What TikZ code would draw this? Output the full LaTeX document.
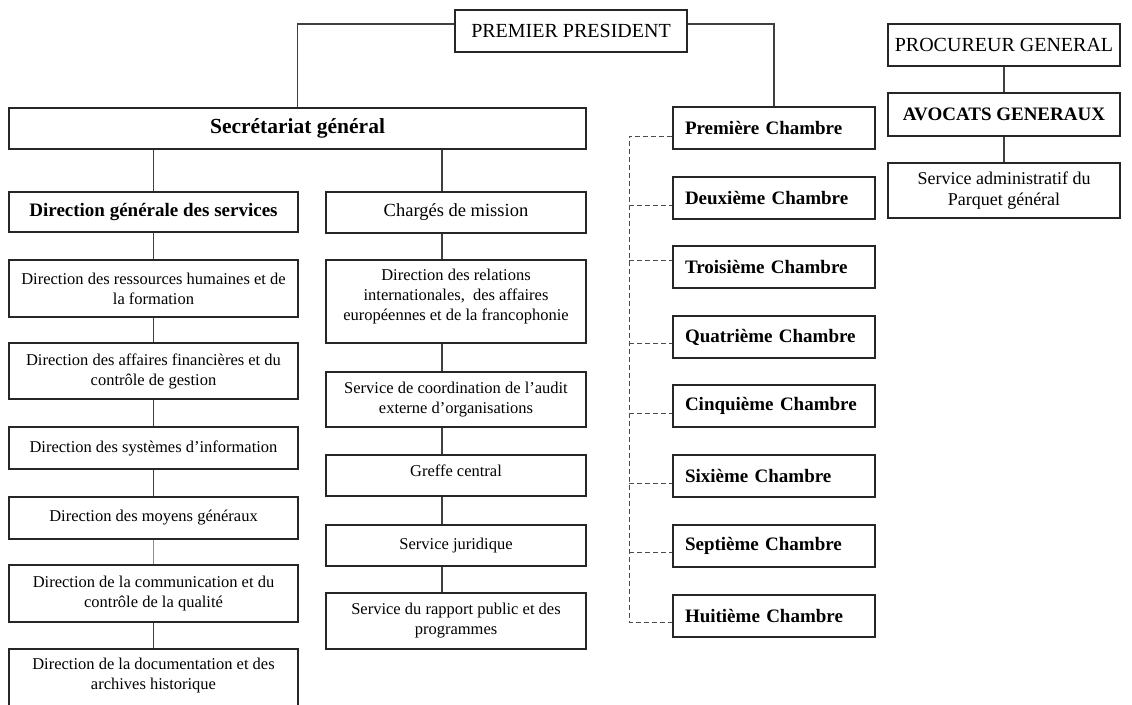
\documentclass[tikz,border=0pt]{standalone}
\usepackage{fontspec}
\setmainfont{Liberation Serif}
\begin{document}
\begin{tikzpicture}[x=1pt,y=-1pt,
  box/.style={draw=black!85, line width=1.1pt, inner sep=0pt, align=center, fill=white},
  reg/.style={font=\fontsize{16.5}{20}\selectfont},
  regbig/.style={font=\fontsize{18.5}{21}\selectfont},
  caps/.style={font=\fontsize{20}{24}\selectfont},
  bld/.style={font=\fontsize{19}{22}\bfseries\selectfont},
  chambre/.style={box, bld, minimum width=202pt, minimum height=42pt,
                  text width=178pt, align=left},
  inner text/.style={reg, align=center, inner sep=0pt},
  link/.style={draw=black!75, line width=1.1pt},
  thinlink/.style={draw=black!45, line width=0.8pt},
  dashlink/.style={draw=black!70, line width=1pt, dash pattern=on 5pt off 3pt}]

\useasboundingbox (0,0) rectangle (1132,704);
\clip (0,0) rectangle (1132,704);

% top of the hierarchy
\node[box, caps, minimum width=232pt, minimum height=42pt] (pp) at (571,31) {PREMIER PRESIDENT};
\node[box, font=\fontsize{21.5}{24}\bfseries\selectfont, minimum width=577pt, minimum height=41pt] (sg) at (297.5,128.5) {Secrétariat général};

% left column: Direction générale des services
\node[box, bld, minimum width=289pt, minimum height=40pt] (dgs) at (153.5,212) {Direction générale des services};
\node[box, reg, minimum width=289pt, minimum height=57pt] (drh) at (153.5,288.5) {Direction des ressources humaines et de\\la formation};
\node[box, reg, minimum width=289pt, minimum height=56pt] (daf) at (153.5,371) {Direction des affaires financières et du\\contrôle de gestion};
\node[box, reg, minimum width=289pt, minimum height=42pt] (dsi) at (153.5,448) {Direction des systèmes d’information};
\node[box, reg, minimum width=289pt, minimum height=42pt] (dmg) at (153.5,518) {Direction des moyens généraux};
\node[box, reg, minimum width=289pt, minimum height=57pt] (dccq) at (153.5,593.5) {Direction de la communication et du\\contrôle de la qualité};
\node[box, minimum width=289pt, minimum height=62pt] (ddah) at (153.5,680) {};
\node[inner text] (ddahtext) at (153.5,675.5) {Direction de la documentation et des\\archives historique};

% middle column: Chargés de mission
\coordinate (colB) at (442,0);
\node[box, regbig, minimum width=260pt, minimum height=41pt] (cm) at (456,212.5) {Chargés de mission};
\node[box, minimum width=260pt, minimum height=83pt] (dri) at (456,301.5) {};
\node[inner text] (dritext) at (456,297) {Direction des relations\\internationales,\ \ des affaires\\européennes et de la francophonie};
\node[box, reg, minimum width=260pt, minimum height=55pt] (sca) at (456,399.5) {Service de coordination de l’audit\\externe d’organisations};
\node[box, minimum width=260pt, minimum height=41pt] (gc) at (456,475.5) {};
\node[inner text] (gctext) at (456,471) {Greffe central};
\node[box, reg, minimum width=260pt, minimum height=41pt] (sj) at (456,545.5) {Service juridique};
\node[box, reg, minimum width=260pt, minimum height=56pt] (srp) at (456,621) {Service du rapport public et des\\programmes};

% chambers
\node[chambre] (c1) at (774,128) {Première Chambre};
\node[chambre] (c2) at (774,198) {Deuxième Chambre};
\node[chambre] (c3) at (774,267) {Troisième Chambre};
\node[chambre] (c4) at (774,337) {Quatrième Chambre};
\node[chambre] (c5) at (774,406) {Cinquième Chambre};
\node[chambre] (c6) at (774,476) {Sixième Chambre};
\node[chambre] (c7) at (774,546) {Septième Chambre};
\node[chambre] (c8) at (774,616) {Huitième Chambre};

% parquet général
\node[box, caps, minimum width=232pt, minimum height=42pt] (pg) at (1004,45) {PROCUREUR GENERAL};
\node[box, bld, minimum width=232pt, minimum height=43pt] (ag) at (1004,114.5) {AVOCATS GENERAUX};
\node[box, font=\fontsize{18}{21}\selectfont, minimum width=232pt, minimum height=55pt] (sap) at (1004,190.5) {Service administratif du\\Parquet général};

% solid connectors
\draw[link] ([yshift=7pt]pp.west) -| (sg.north);
\draw[link] ([yshift=7pt]pp.east) -| (c1.north);
\draw[link] (sg.south -| dgs.north) -- (dgs.north);
\draw[link] (sg.south -| colB) -- (cm.north -| colB);

\draw[link] (dgs.south) -- (drh.north);
\draw[link] (drh.south) -- (daf.north);
\draw[link] (daf.south) -- (dsi.north);
\draw[link] (dsi.south) -- (dmg.north);
\draw[thinlink] (dmg.south) -- (dccq.north);
\draw[link] (dccq.south) -- (ddah.north);

\draw[link] (cm.south -| colB) -- (dri.north -| colB);
\draw[link] (dri.south -| colB) -- (sca.north -| colB);
\draw[link] (sca.south -| colB) -- (gc.north -| colB);
\draw[link] (gc.south -| colB) -- (sj.north -| colB);
\draw[link] (sj.south -| colB) -- (srp.north -| colB);

\draw[link] (pg.south) -- (ag.north);
\draw[link] (ag.south) -- (sap.north);

% dashed bus linking the chambers
\coordinate (bus) at (629,0);
\coordinate (a1) at ([yshift=-8pt]c1.west);
\coordinate (a2) at ([yshift=-7pt]c2.west);
\coordinate (a3) at ([yshift=7pt]c3.west);
\coordinate (a4) at ([yshift=-6pt]c4.west);
\coordinate (a5) at ([yshift=-7pt]c5.west);
\coordinate (a6) at ([yshift=-7pt]c6.west);
\coordinate (a7) at ([yshift=-6pt]c7.west);
\coordinate (a8) at ([yshift=-6pt]c8.west);
\draw[dashlink] (a1) -- (a1 -| bus) -- (a8 -| bus) -- (a8);
\foreach \k in {2,...,7} {
  \draw[dashlink] (a\k -| bus) -- (a\k);
}
\end{tikzpicture}
\end{document}
